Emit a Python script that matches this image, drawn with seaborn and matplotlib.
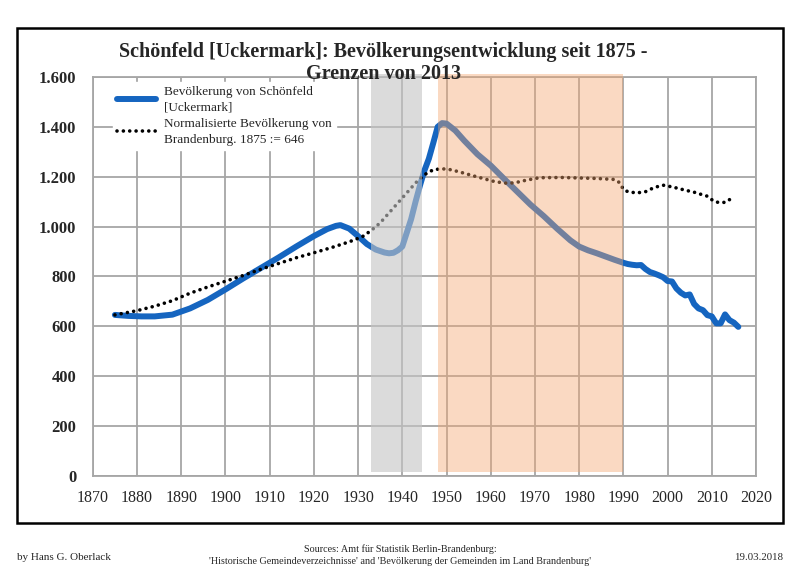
import matplotlib
matplotlib.use("Agg")
import matplotlib.pyplot as plt
from matplotlib.patches import Rectangle
import seaborn as sns
import pandas as pd

# Bevölkerung Schönfeld
years_sch = [1875, 1878, 1881, 1884, 1888, 1892, 1896, 1900, 1904, 1908, 1912, 1916,
             1920, 1923, 1925, 1926, 1928, 1930, 1932, 1934, 1936, 1937, 1938, 1939,
             1940, 1941, 1942, 1943, 1944, 1945, 1946, 1947, 1948, 1949, 1950, 1952,
             1954, 1957, 1960, 1963, 1966, 1969, 1972, 1975, 1978, 1980, 1982, 1984,
             1986, 1988, 1990, 1991, 1992, 1993, 1994, 1995, 1996, 1997, 1998, 1999,
             2000, 2001, 2002, 2003, 2004, 2005, 2006, 2007, 2008, 2009, 2010, 2011,
             2012, 2013, 2014, 2015, 2016]
pop_sch = [646, 642, 640, 640, 647, 672, 706, 748, 792, 834, 876, 920,
           962, 990, 1003, 1006, 992, 962, 930, 908, 896, 893, 895, 905,
           920, 975, 1030, 1100, 1165, 1225, 1272, 1335, 1400, 1415, 1413, 1385,
           1345, 1290, 1245, 1192, 1140, 1088, 1042, 992, 945, 920, 905, 893,
           880, 867, 855, 850, 847, 845, 846, 830, 818, 812, 805, 797,
           782, 780, 752, 735, 724, 728, 690, 672, 665, 645, 640, 612,
           612, 648, 625, 615, 598]

# Normalisierte Bevölkerung Brandenburg
years_bb = [1875, 1880, 1884, 1888, 1892, 1896, 1900, 1904, 1908, 1912, 1916, 1920,
            1924, 1928, 1931, 1933, 1935, 1937, 1939, 1941, 1943, 1945, 1947, 1949,
            1951, 1953, 1957, 1961, 1964, 1966, 1968, 1971, 1976, 1984, 1988, 1989,
            1990, 1991, 1993, 1995, 1997, 1999, 2000, 2002, 2004, 2006, 2008, 2009,
            2010, 2011, 2013, 2014]
pop_bb = [646, 663, 681, 703, 733, 758, 781, 804, 829, 852, 875, 895,
          916, 939, 960, 985, 1015, 1055, 1095, 1135, 1175, 1208, 1228, 1232,
          1228, 1219, 1199, 1180, 1173, 1178, 1186, 1196, 1197, 1193, 1189, 1178,
          1150, 1140, 1135, 1140, 1157, 1166, 1163, 1155, 1146, 1138, 1127, 1122,
          1108, 1098, 1097, 1108]

band_grey = (1933, 1944.5)
band_orange = (1948, 1990)

label_sch = "Bevölkerung von Schönfeld\n[Uckermark]"
label_bb = "Normalisierte Bevölkerung von\nBrandenburg. 1875 := 646"
title = "Schönfeld [Uckermark]: Bevölkerungsentwicklung seit 1875 -\nGrenzen von 2013"

df_sch = pd.DataFrame({"Jahr": years_sch, "Einwohner": pop_sch})
df_bb = pd.DataFrame({"Jahr": years_bb, "Einwohner": pop_bb})

sns.set_style("white")
plt.rcParams["font.family"] = ["Liberation Serif", "DejaVu Serif"]

fig = plt.figure(figsize=(8, 5.66), dpi=100)
ax = fig.add_axes([0.116, 0.159, 0.829, 0.705])

grid_c = "#a6a6a6"
sns.lineplot(data=df_sch, x="Jahr", y="Einwohner", ax=ax, color="#1565c0", lw=4.3,
             solid_capstyle="round", label=label_sch, zorder=3)
sns.lineplot(data=df_bb, x="Jahr", y="Einwohner", ax=ax, color="black", lw=2.6,
             linestyle=(0, (0.01, 1.75)), dash_capstyle="round", label=label_bb, zorder=3)

# shaded periods on top of the lines
ax.fill_between(band_grey, 15, 1610, color="#c4c4c4", alpha=0.6, lw=0, zorder=4, clip_on=False)
ax.fill_between(band_orange, 15, 1610, color="#f5a66e", alpha=0.42, lw=0, zorder=4, clip_on=False)

ax.set_xlim(1870, 2020)
ax.set_ylim(0, 1600)
ax.set_xticks(range(1870, 2021, 10))
ax.set_yticks(range(0, 1601, 200))
ax.set_yticklabels([f"{v:,}".replace(",", ".") for v in range(0, 1601, 200)], fontweight="bold")
ax.grid(True, color=grid_c, lw=1.3)
ax.set_axisbelow(True)
for s in ax.spines.values():
    s.set_color(grid_c)
    s.set_linewidth(1.3)
ax.tick_params(axis="both", direction="out", length=5, width=1.3, color=grid_c, pad=5)
ax.tick_params(axis="x", labelsize=11.5)
ax.tick_params(axis="y", length=7, labelsize=12)
ax.set_xlabel("")
ax.set_ylabel("")

leg = ax.legend(loc="upper left", bbox_to_anchor=(0.026, 0.995), borderaxespad=0.2,
                frameon=True, fancybox=False, framealpha=1, edgecolor="white",
                facecolor="white", fontsize=9.5, handlelength=3.0, borderpad=0.3,
                labelspacing=0.3, handletextpad=0.6)
for t in leg.get_texts():
    t.set_linespacing(1.45)
leg.set_zorder(5)

fig.text(0.479, 0.889, title, ha="center", va="center", fontsize=14.5, fontweight="bold",
         linespacing=1.15, zorder=6)

fig.add_artist(Rectangle((0.021, 0.076), 0.958, 0.875, transform=fig.transFigure,
                         fill=False, lw=1.8, edgecolor="black"))

fig.text(0.021, 0.015, "by Hans G. Oberlack", ha="left", va="center", fontsize=8)
fig.text(0.5, 0.019, "Sources: Amt für Statistik Berlin-Brandenburg:\n"
         "'Historische Gemeindeverzeichnisse' and 'Bevölkerung der Gemeinden im Land Brandenburg'",
         ha="center", va="center", fontsize=7.3, linespacing=1.4)
fig.text(0.979, 0.015, "19.03.2018", ha="right", va="center", fontsize=7.8)

fig.savefig("out.png", dpi=100)
